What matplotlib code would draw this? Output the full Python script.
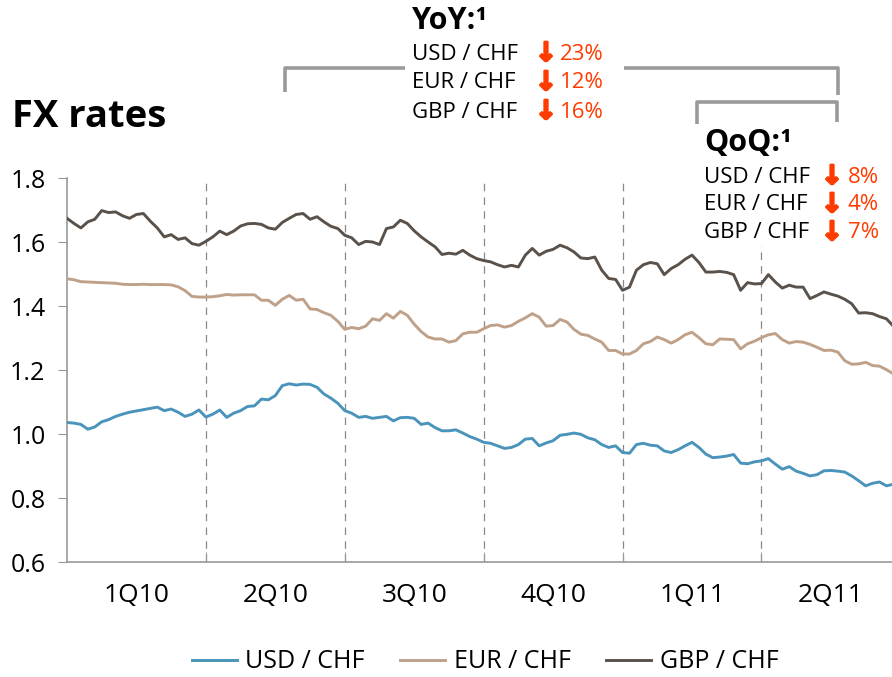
import matplotlib
matplotlib.use("Agg")
import matplotlib.pyplot as plt
import matplotlib.patheffects as pe
import numpy as np

plt.rcParams['font.family'] = ['Open Sans', 'DejaVu Sans']

# x positions in quarter units (step = 1/20 quarter), 1Q10 .. 2Q11
quarters = ["1Q10", "2Q10", "3Q10", "4Q10", "1Q11", "2Q11"]
step = 0.05

usd_chf = [1.036, 1.034, 1.030, 1.015, 1.022, 1.038, 1.045, 1.055, 1.062, 1.068, 1.072, 1.076, 1.080, 1.084, 1.073, 1.078, 1.068, 1.055, 1.062, 1.075, 1.053, 1.062, 1.075, 1.052, 1.065,
           1.073, 1.086, 1.088, 1.109, 1.107, 1.120, 1.151, 1.157, 1.153, 1.156, 1.155, 1.146, 1.125, 1.112, 1.096, 1.073, 1.065, 1.052, 1.055, 1.049, 1.052, 1.055, 1.041, 1.051,
           1.052, 1.049, 1.030, 1.034, 1.020, 1.010, 1.010, 1.013, 1.003, 0.992, 0.984, 0.974, 0.971, 0.963, 0.955, 0.958, 0.967, 0.984, 0.986, 0.963, 0.972, 0.979, 0.996,
           0.999, 1.003, 0.999, 0.988, 0.982, 0.967, 0.958, 0.963, 0.942, 0.940, 0.967, 0.971, 0.965, 0.963, 0.947, 0.942, 0.951, 0.963, 0.974, 0.958, 0.937, 0.926, 0.928, 0.931,
           0.936, 0.909, 0.907, 0.913, 0.916, 0.923, 0.906, 0.890, 0.898, 0.884, 0.877, 0.869, 0.873, 0.885, 0.886, 0.884, 0.881, 0.869, 0.854, 0.838, 0.846, 0.850, 0.838, 0.843]

eur_chf = [1.485, 1.482, 1.476, 1.475, 1.474, 1.473, 1.472, 1.471, 1.468, 1.467, 1.467, 1.468, 1.467, 1.467, 1.467, 1.466, 1.460, 1.448, 1.430, 1.428, 1.428, 1.429, 1.432, 1.436, 1.434,
           1.435, 1.435, 1.435, 1.418, 1.418, 1.402, 1.421, 1.433, 1.418, 1.421, 1.391, 1.389, 1.379, 1.371, 1.352, 1.327, 1.333, 1.329, 1.337, 1.360, 1.355, 1.376, 1.362, 1.383,
           1.371, 1.343, 1.320, 1.303, 1.297, 1.297, 1.287, 1.292, 1.313, 1.318, 1.318, 1.329, 1.339, 1.341, 1.334, 1.339, 1.352, 1.363, 1.376, 1.365, 1.337, 1.339, 1.358,
           1.350, 1.327, 1.312, 1.308, 1.297, 1.287, 1.261, 1.261, 1.250, 1.250, 1.261, 1.282, 1.289, 1.303, 1.295, 1.284, 1.295, 1.310, 1.318, 1.301, 1.282, 1.279, 1.297, 1.296,
           1.295, 1.266, 1.282, 1.290, 1.301, 1.310, 1.314, 1.295, 1.284, 1.289, 1.287, 1.280, 1.271, 1.261, 1.262, 1.256, 1.229, 1.218, 1.219, 1.224, 1.214, 1.212, 1.201, 1.188]

gbp_chf = [1.674, 1.658, 1.644, 1.663, 1.671, 1.698, 1.692, 1.694, 1.682, 1.674, 1.686, 1.689, 1.665, 1.644, 1.616, 1.623, 1.608, 1.613, 1.595, 1.590, 1.602, 1.616, 1.634, 1.623, 1.634,
           1.650, 1.657, 1.658, 1.655, 1.644, 1.640, 1.661, 1.674, 1.686, 1.689, 1.671, 1.679, 1.663, 1.649, 1.642, 1.621, 1.613, 1.592, 1.602, 1.600, 1.592, 1.642, 1.647, 1.668,
           1.658, 1.635, 1.616, 1.600, 1.585, 1.561, 1.565, 1.562, 1.574, 1.559, 1.548, 1.542, 1.538, 1.529, 1.522, 1.527, 1.522, 1.559, 1.580, 1.559, 1.571, 1.577, 1.590,
           1.582, 1.569, 1.550, 1.548, 1.553, 1.512, 1.486, 1.483, 1.449, 1.459, 1.512, 1.529, 1.536, 1.532, 1.498, 1.517, 1.529, 1.546, 1.559, 1.536, 1.506, 1.506, 1.508, 1.505,
           1.498, 1.449, 1.473, 1.469, 1.470, 1.498, 1.475, 1.456, 1.465, 1.459, 1.459, 1.423, 1.433, 1.444, 1.437, 1.431, 1.421, 1.407, 1.378, 1.379, 1.376, 1.367, 1.360, 1.337]

series_names = ["USD / CHF", "EUR / CHF", "GBP / CHF"]
series_colors = ["#4a94bb", "#bfa18a", "#59514a"]

yoy_changes = ["23%", "12%", "16%"]
qoq_changes = ["8%", "4%", "7%"]

W, H = 892, 677
fig = plt.figure(figsize=(W / 100, H / 100), dpi=100)
ax = fig.add_axes([67 / W, 1 - 562 / H, (W - 67) / W, (562 - 178) / H])

x = np.arange(len(usd_chf)) * step
for vals, name, col in zip([usd_chf, eur_chf, gbp_chf], series_names, series_colors):
    ax.plot(x, vals, color=col, lw=2.1, label=name, zorder=3, solid_joinstyle='round')

for q in range(1, 6):
    ax.axvline(q, color='#888888', lw=0.9, ls=(0, (6, 5)), zorder=1)

ax.set_xlim(0, 5.94)
ax.set_ylim(0.6, 1.8)
ax.set_yticks([0.6, 0.8, 1.0, 1.2, 1.4, 1.6, 1.8])
ax.set_yticklabels(["0.6", "0.8", "1.0", "1.2", "1.4", "1.6", "1.8"])
ax.tick_params(axis='y', direction='out', length=6.5, color='#999999', labelsize=18, pad=9)

ax.set_xticks([1, 2, 3, 4, 5])
ax.set_xticklabels([])
ax.tick_params(axis='x', which='major', direction='in', length=7, color='#999999')
ax.set_xticks([i + 0.5 for i in range(6)], minor=True)
ax.set_xticklabels(quarters, minor=True)
ax.tick_params(axis='x', which='minor', length=0, labelsize=19, pad=15)

for s in ['top', 'right']:
    ax.spines[s].set_visible(False)
for s in ['left', 'bottom']:
    ax.spines[s].set_color('#999999')
    ax.spines[s].set_linewidth(1.2)

fig.legend(loc='center', bbox_to_anchor=(485 / W, 1 - 662 / H), ncol=3, frameon=False,
           fontsize=18, handlelength=1.8, columnspacing=1.4, handletextpad=0.35)

def ftext(px, py, s, **kw):
    return fig.text(px / W, 1 - py / H, s, **kw)

ftext(12, 117, "FX rates", fontsize=27.5, fontweight='bold', va='center', ha='left')

red = "#ff3c00"
gray = "#9a9a9a"
arrow_fx = [pe.withStroke(linewidth=1.6, foreground=red)]

def pline(xs, ys):
    fig.add_artist(plt.Line2D([v / W for v in xs], [1 - v / H for v in ys], color=gray, lw=2.6,
                              transform=fig.transFigure, solid_capstyle='butt'))

# YoY bracket
pline([285, 285, 405], [92, 68, 68])
pline([624, 838, 838], [68, 68, 95])
# QoQ bracket
pline([697, 697, 837, 837], [124, 102, 102, 122])

ftext(412, 21, "YoY:\u00b9", fontsize=22, fontweight='bold', va='center', ha='left')
for i, (nm, ch) in enumerate(zip(series_names, yoy_changes)):
    yy = 54 + i * 29
    ftext(412, yy, nm, fontsize=16, va='center', ha='left')
    ftext(546, yy, "\u2193", fontsize=19, fontweight='bold', color=red, va='center', ha='center',
          family='DejaVu Sans', path_effects=arrow_fx)
    ftext(560, yy, ch, fontsize=16, color=red, va='center', ha='left')

# QoQ block with white background covering dashed line
fig.patches.append(matplotlib.patches.Rectangle((700 / W, 1 - 246 / H), 190 / W, 120 / H,
                                                transform=fig.transFigure, facecolor='white',
                                                edgecolor='none', zorder=2))
ftext(704, 143, "QoQ:\u00b9", fontsize=22, fontweight='bold', va='center', ha='left', zorder=3)
for i, (nm, ch) in enumerate(zip(series_names, qoq_changes)):
    yy = 177 + i * 28
    ftext(704, yy, nm, fontsize=16, va='center', ha='left', zorder=3)
    ftext(832, yy, "\u2193", fontsize=19, fontweight='bold', color=red, va='center', ha='center',
          family='DejaVu Sans', zorder=3, path_effects=arrow_fx)
    ftext(848, yy, ch, fontsize=16, color=red, va='center', ha='left', zorder=3)

fig.savefig("out.png", dpi=100)
